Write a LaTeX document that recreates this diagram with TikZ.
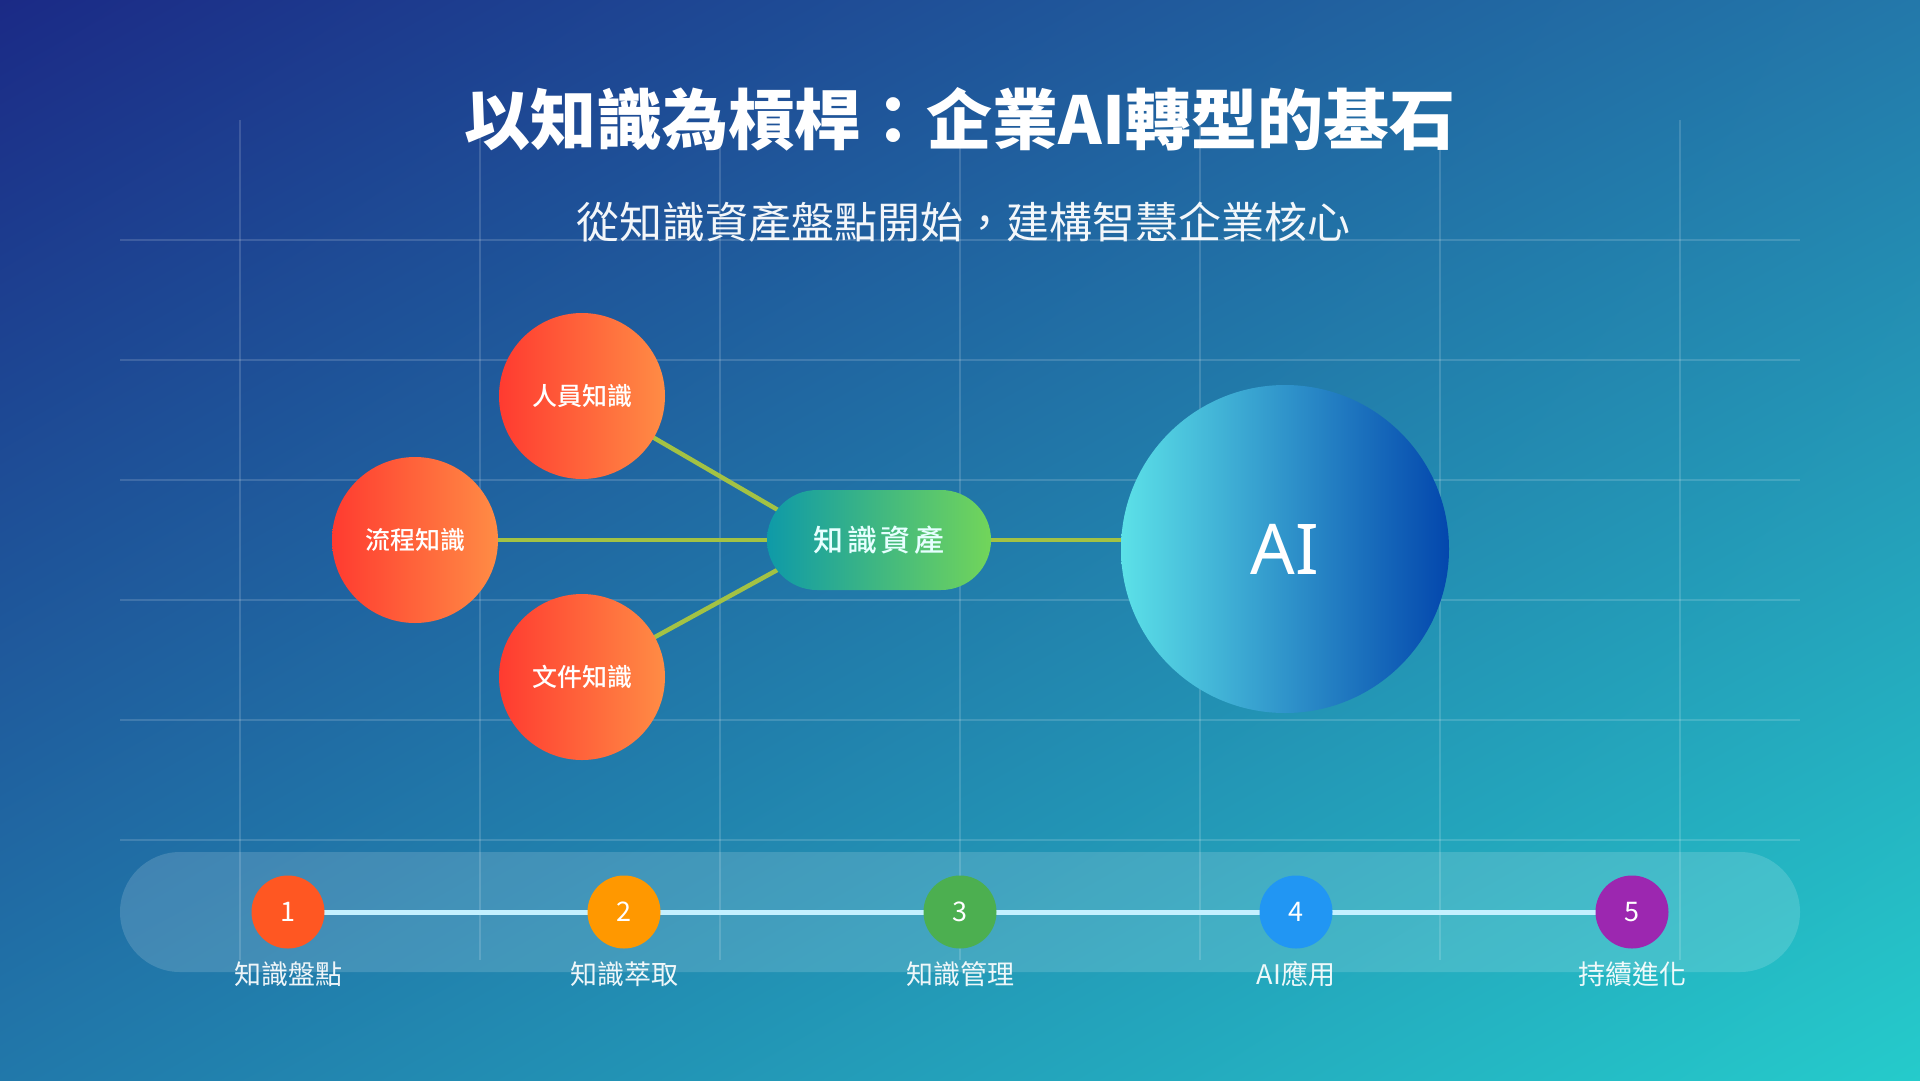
\documentclass[tikz,border=0pt]{standalone}
\usepackage{fontspec}
\setmainfont{Noto Sans CJK TC}
\newfontfamily\medfont{Noto Sans CJK TC Medium}
\newfontfamily\latinfont{Noto Sans}
\usetikzlibrary{calc,shadings}
\definecolor{bgUL}{HTML}{1B2A86}
\definecolor{bgUR}{HTML}{2378AA}
\definecolor{bgLL}{HTML}{2178AA}
\definecolor{bgLR}{HTML}{25CBCB}
\definecolor{orA}{HTML}{FF3B30}
\definecolor{orB}{HTML}{FF8C45}
\definecolor{assetA}{HTML}{0E9AA8}
\definecolor{assetB}{HTML}{72D55A}
\definecolor{aiA}{HTML}{5CE1E8}
\definecolor{aiB}{HTML}{0347AD}
\definecolor{connC}{HTML}{A3C244}
\definecolor{tlineC}{HTML}{C4F0FF}
\definecolor{assetText}{HTML}{E6FFFF}
\definecolor{st1}{HTML}{FF5722}
\definecolor{st2}{HTML}{FF9800}
\definecolor{st3}{HTML}{4CAF50}
\definecolor{st4}{HTML}{2196F3}
\definecolor{st5}{HTML}{9C27B0}
\pgfdeclarelayer{back}
\pgfdeclarelayer{mid}
\pgfsetlayers{back,mid,main}
\tikzset{
  gridline/.style={draw=white, draw opacity=0.15, line width=2pt},
  know/.style={circle, minimum size=166pt, inner sep=0pt, left color=orA, right color=orB, text=white, font=\medfont\fontsize{25}{28}\selectfont},
  asset/.style={rectangle, rounded corners=50pt, minimum width=224pt, minimum height=100pt, inner sep=0pt, left color=assetA, right color=assetB, text=assetText, font=\medfont\fontsize{30}{32}\selectfont\addfontfeature{LetterSpace=12}},
  aicirc/.style={circle, minimum size=328pt, inner sep=0pt, left color=aiA, right color=aiB, text=white, font=\latinfont\fontsize{70}{74}\selectfont},
  conn/.style={draw=connC, line width=4.5pt},
  tline/.style={draw=tlineC, line width=5pt},
  stepdot/.style={circle, minimum size=73pt, inner sep=0pt, text=white, font=\fontsize{27}{29}\selectfont},
  steplabel/.style={text=white, text opacity=0.92, font=\fontsize{27}{30}\selectfont, inner sep=0pt},
}
\begin{document}
\begin{tikzpicture}[x=1pt,y=-1pt]
\useasboundingbox (0,0) rectangle (1920,1080);
\begin{pgfonlayer}{back}
  \shade[upper left=bgUL, upper right=bgUR, lower left=bgLL, lower right=bgLR] (0,0) rectangle (1920,1080);
  \foreach \x in {240,480,...,1680} \draw[gridline] (\x,120) -- (\x,960);
  \foreach \y in {240,360,...,840} \draw[gridline] (120,\y) -- (1800,\y);
  \fill[white, opacity=0.15, rounded corners=60pt] (120,852) rectangle (1800,972);
\end{pgfonlayer}

% title
\node[text=white, font=\bfseries\fontsize{66}{70}\selectfont, inner sep=0pt] (title) at (960,119) {以知識為槓桿：企業AI轉型的基石};
\node[text=white, text opacity=0.95, font=\fontsize{43}{46}\selectfont, inner sep=0pt] (subtitle) at (963,222) {從知識資產盤點開始，建構智慧企業核心};

% knowledge nodes
\node[know] (people) at (582,396) {人員知識};
\node[know] (process) at (415,540) {流程知識};
\node[know] (doc) at (582,677) {文件知識};
\node[asset] (asset) at (879,540) {知識資產};
\node[aicirc] (ai) at (1285,549) {AI};

\coordinate (assetUp) at ($(asset.center)+(-89,-23)$);
\coordinate (assetDn) at ($(asset.center)+(-89,23)$);

\begin{pgfonlayer}{mid}
  \draw[conn] (people.center) -- (assetUp);
  \draw[conn] (doc.center) -- (assetDn);
  \draw[conn] (process.center) -- (asset.center);
  \draw[conn] (asset.center) -- (asset.center -| ai.center);
\end{pgfonlayer}

% timeline
\node[stepdot, fill=st1] (s1) at (288,912) {1};
\node[stepdot, fill=st2] (s2) at (624,912) {2};
\node[stepdot, fill=st3] (s3) at (960,912) {3};
\node[stepdot, fill=st4] (s4) at (1296,912) {4};
\node[stepdot, fill=st5] (s5) at (1632,912) {5};

\begin{pgfonlayer}{mid}
  \draw[tline] (s1.center) -- (s2.center);
  \draw[tline] (s2.center) -- (s3.center);
  \draw[tline] (s3.center) -- (s4.center);
  \draw[tline] (s4.center) -- (s5.center);
\end{pgfonlayer}

\node[steplabel] (l1) at (288,974) {知識盤點};
\node[steplabel] (l2) at (624,974) {知識萃取};
\node[steplabel] (l3) at (960,974) {知識管理};
\node[steplabel] (l4) at (1296,974) {AI應用};
\node[steplabel] (l5) at (1632,974) {持續進化};
\end{tikzpicture}
\end{document}
